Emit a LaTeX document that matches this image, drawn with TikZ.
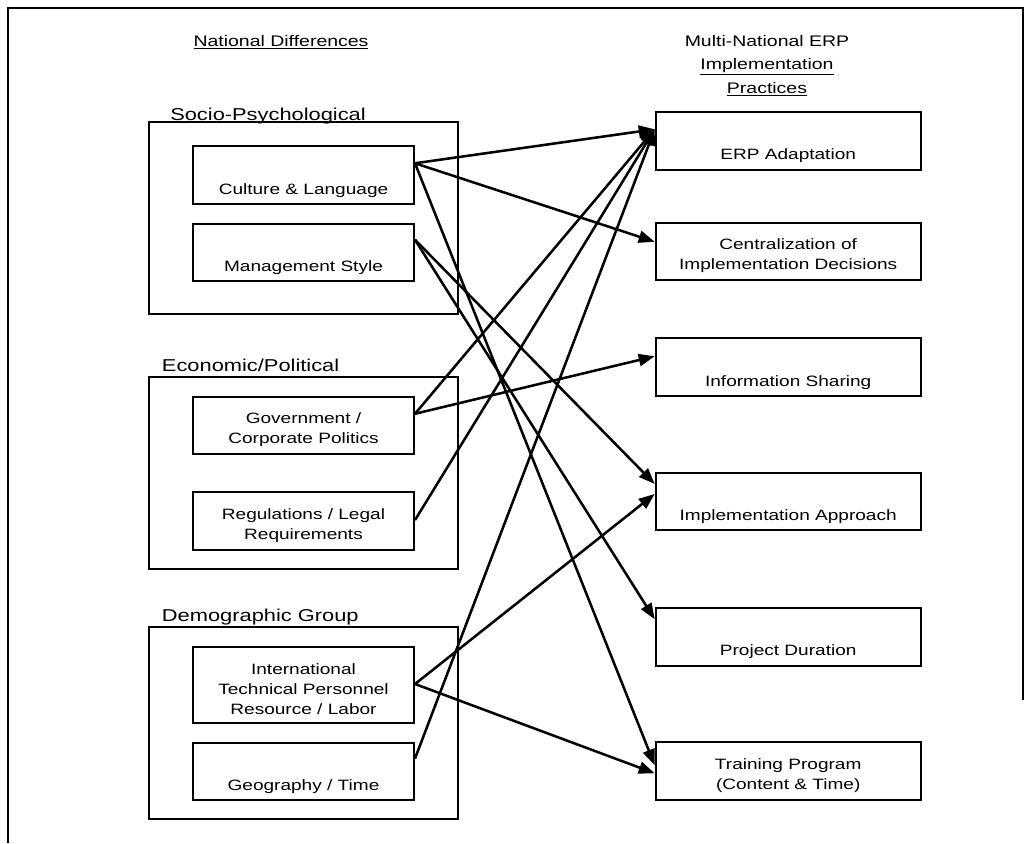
\documentclass[tikz,border=0pt]{standalone}
\usepackage{fontspec}
\setmainfont{Liberation Sans}[FakeStretch=1.27]
\usetikzlibrary{arrows.meta,positioning,calc}

\begin{document}
\begin{tikzpicture}[x=0.75pt, y=-0.75pt, >={Triangle[length=12pt,width=9pt]},
  grp/.style={draw, line width=1.5pt, inner sep=0pt, minimum width=231.75pt, minimum height=144pt},
  lbox/.style={draw, line width=1.5pt, inner sep=0pt, minimum width=165.75pt, minimum height=43.1pt},
  rbox/.style={draw, line width=1.5pt, inner sep=0pt, minimum width=198.75pt, minimum height=43.1pt},
  txt/.style={anchor=base, align=center, inner sep=0pt, font=\fontsize{11.25}{15}\selectfont},
  glbl/.style={anchor=base west, inner sep=0pt, font=\fontsize{12.9}{15}\selectfont},
  head/.style={anchor=base, inner sep=0pt, font=\fontsize{11.5}{17.5}\selectfont},
  link/.style={->, line width=1.9pt}]
\useasboundingbox (0,0) rectangle (1032,843);
% page frame
\draw[line width=1.5pt] (8,843) -- (8,8) -- (1023,8) -- (1023,700);

% column headings
\node[head] (hleft) at (281,46) {\underline{National Differences}};
\node[head, align=center] (hright) at (767,93)
  {Multi-National ERP\\\underline{Implementation}\\\underline{Practices}};

% national differences groups
\node[grp] (socio) at (303.5,218) {};
\node[grp] (econ) at (303.5,473) {};
\node[grp] (demo) at (303.5,723) {};
\node[glbl] (sociol) at (170,120.7) {Socio-Psychological};
\node[glbl] (econl) at (161.7,371) {Economic/Political};
\node[glbl] (demol) at (161.7,621.7) {Demographic Group};

\node[lbox] (culture) at (303.5,175) {};
\node[lbox] (mgmt) at (303.5,252.5) {};
\node[lbox] (gov) at (303.5,425.5) {};
\node[lbox] (regs) at (303.5,521) {};
\node[lbox, minimum height=57pt] (intl) at (303.5,685) {};
\node[lbox] (geo) at (303.5,771.3) {};

\node[txt] at (303.5,194) {Culture \& Language};
\node[txt] at (303.5,271) {Management Style};
\node[txt] at (303.5,443) {Government /\\Corporate Politics};
\node[txt] at (303.5,539.3) {Regulations / Legal\\Requirements};
\node[txt] at (303.5,714) {International\\Technical Personnel\\Resource / Labor};
\node[txt] at (303.5,790) {Geography / Time};

% implementation practices
\node[rbox] (erp) at (788.2,141) {};
\node[rbox] (central) at (788.2,251.5) {};
\node[rbox] (info) at (788.2,367) {};
\node[rbox] (impl) at (788.2,501.7) {};
\node[rbox] (dur) at (788.2,637) {};
\node[rbox] (train) at (788.2,771) {};

\node[txt] at (788.2,159.3) {ERP Adaptation};
\node[txt] at (788.2,269.5) {Centralization of\\Implementation Decisions};
\node[txt] at (788.2,386) {Information Sharing};
\node[txt] at (788.2,520) {Implementation Approach};
\node[txt] at (788.2,655) {Project Duration};
\node[txt] at (788.2,789.3) {Training Program\\(Content \& Time)};

% influences
\foreach \a/\da/\b/\db in {
    culture/13.5/erp/13.5, culture/13.5/central/15, culture/13.5/train/18,
    mgmt/12.75/impl/9, mgmt/12.75/dur/9,
    gov/13.5/erp/13.5, gov/13.5/info/14.25,
    regs/21.6/erp/13.5,
    intl/28.5/impl/16.5, intl/28.5/train/24,
    geo/12.75/erp/13.5}{
  \draw[link] ([yshift=-\da pt]\a.north east) -- ([yshift=-\db pt]\b.north west);
}
\end{tikzpicture}
\end{document}
